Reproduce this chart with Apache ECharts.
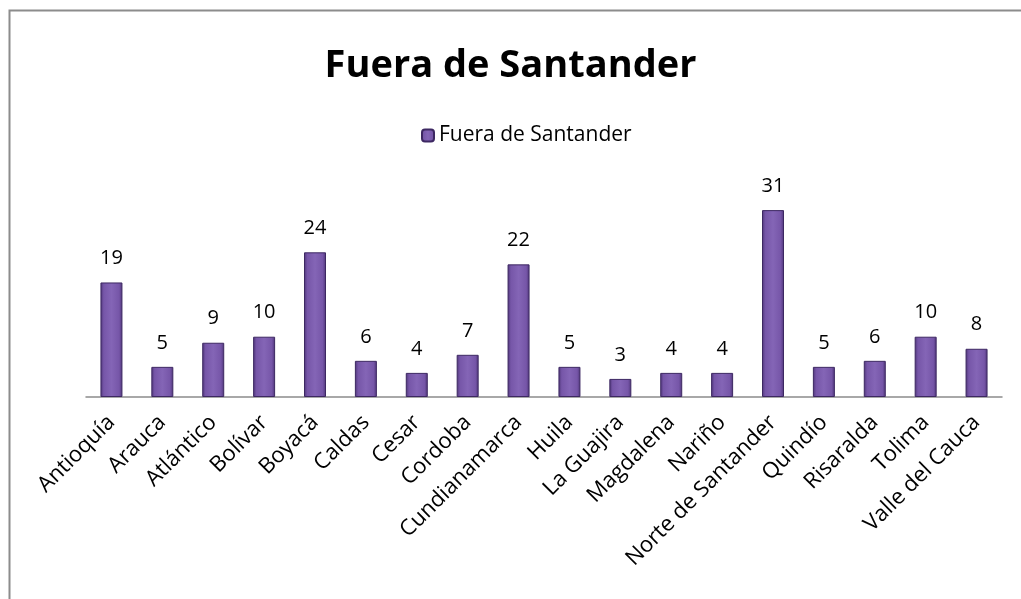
<!DOCTYPE html>
<html>
<head>
<meta charset="utf-8">
<script src="https://cdn.jsdelivr.net/npm/echarts@6/dist/echarts.min.js"></script>
<style>
  html, body { margin: 0; padding: 0; background: #fff; }
  #chart { width: 1021px; height: 599px; }
</style>
</head>
<body>
<div id="chart"></div>
<script>
// datos
const categories = ["Antioquía", "Arauca", "Atlántico", "Bolívar", "Boyacá", "Caldas", "Cesar", "Cordoba",
  "Cundianamarca", "Huila", "La Guajira", "Magdalena", "Nariño", "Norte de Santander", "Quindío",
  "Risaralda", "Tolima", "Valle del Cauca"]
const values = [19, 5, 9, 10, 24, 6, 4, 7, 22, 5, 3, 4, 4, 31, 5, 6, 10, 8]
const seriesName = "Fuera de Santander"

const font = "'Open Sans', 'Noto Sans', sans-serif"

const chart = echarts.init(document.getElementById("chart"))
chart.setOption({
  animation: false,
  title: {
    text: "Fuera de Santander",
    left: "center",
    top: 42,
    textStyle: { fontFamily: font, fontSize: 38, fontWeight: "bold", color: "#000" }
  },
  legend: {
    data: [seriesName],
    top: 120,
    left: 416,
    itemWidth: 12,
    itemHeight: 12,
    itemGap: 4,
    textStyle: { fontFamily: font, fontSize: 21, color: "#000" }
  },
  graphic: [{
    type: "polyline",
    shape: { points: [[9.5, 620], [9.5, 10.5], [1040, 10.5]] },
    style: { stroke: "#8c8c8c", lineWidth: 2, fill: null }
  }],
  grid: { left: 86, right: 19, top: 186, bottom: 202 },
  xAxis: {
    type: "category",
    data: categories,
    axisLine: { lineStyle: { color: "#8c8c8c", width: 1.5 } },
    axisTick: { show: false },
    axisLabel: {
      interval: 0,
      rotate: 45,
      margin: 22,
      fontFamily: font,
      fontSize: 22,
      color: "#000"
    }
  },
  yAxis: {
    type: "value",
    min: 0,
    max: 35,
    show: false
  },
  series: [{
    name: seriesName,
    type: "bar",
    data: values,
    barWidth: 22,
    itemStyle: {
      color: {
        type: "linear", x: 0, y: 0, x2: 1, y2: 0,
        colorStops: [
          { offset: 0, color: "#4e3578" },
          { offset: 0.15, color: "#7656a8" },
          { offset: 0.5, color: "#8465b6" },
          { offset: 0.85, color: "#7656a8" },
          { offset: 1, color: "#4e3578" }
        ]
      },
      borderColor: "#3d2862",
      borderWidth: 1
    },
    label: {
      show: true,
      position: "top",
      distance: 14,
      fontFamily: font,
      fontSize: 20,
      color: "#000"
    }
  }]
})
</script>
</body>
</html>
